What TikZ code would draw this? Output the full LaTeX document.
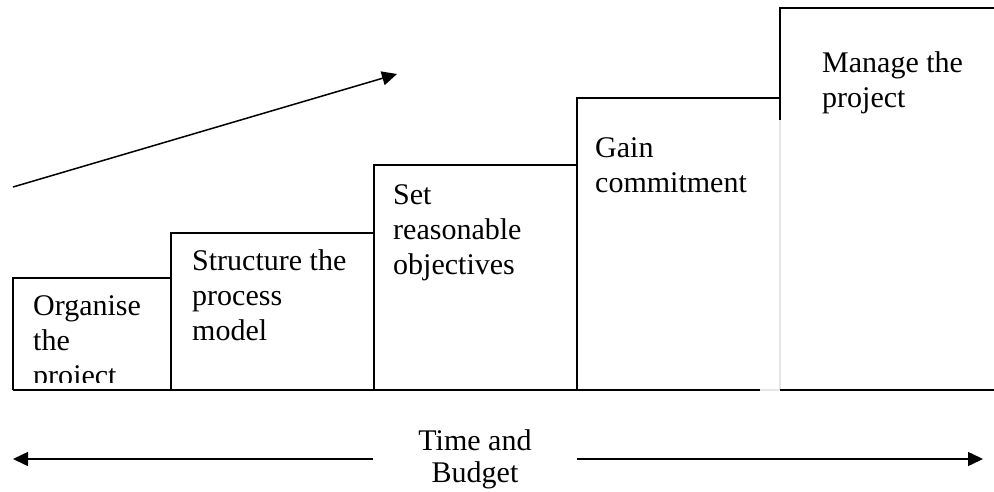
\documentclass[tikz,border=0pt]{standalone}
\usepackage{fontspec}
\setmainfont{Liberation Serif}
\usetikzlibrary{arrows.meta}
\begin{document}
\begin{tikzpicture}[x=1pt,y=-1pt,
  edge/.style={line width=1.8pt},
  faint/.style={line width=1.2pt,draw=black!10},
  lbl/.style={anchor=base west,inner sep=0pt,font=\fontsize{30}{35}\selectfont},
  arr/.style={line width=1.5pt,-{Triangle[length=15pt,width=14pt]}}]
\useasboundingbox (0,0) rectangle (994,491);
% steps
\draw[edge] (13,390) -- (13,278) -- (171,278);
\draw[edge] (171,390) -- (171,233) -- (374,233);
\draw[edge] (374,390) -- (374,165) -- (577,165);
\draw[edge] (577,390) -- (577,98) -- (780,98);
\draw[edge] (780,120) -- (780,8) -- (994,8);
\draw[faint] (780,120) -- (780,389);
\draw[faint] (760,390) -- (780,390);
\draw[edge] (13,390) -- (760,390);
\draw[edge] (780,390) -- (994,390);
% texts
\begin{scope}
\clip (13,278) rectangle (171,382);
\node[lbl] (t1) at (33,315) {\begin{tabular}[t]{@{}l@{}}Organise\\the\\project\end{tabular}};
\end{scope}
\node[lbl] (t2) at (192,270) {\begin{tabular}[t]{@{}l@{}}Structure the\\process\\model\end{tabular}};
\node[lbl] (t3) at (393,204) {\begin{tabular}[t]{@{}l@{}}Set\\reasonable\\objectives\end{tabular}};
\node[lbl] (t4) at (595,157) {\begin{tabular}[t]{@{}l@{}}Gain\\commitment\end{tabular}};
\node[lbl] (t5) at (822,72) {\begin{tabular}[t]{@{}l@{}}Manage the\\project\end{tabular}};
% rising arrow
\coordinate (r0) at (13,187);
\coordinate (r1) at (397,74);
\draw[arr] (r0) -- (r1);
% time and budget
\node[anchor=base,inner sep=0pt,font=\fontsize{30}{32}\selectfont] (tb) at (475,450)
  {\begin{tabular}[t]{@{}c@{}}Time and\\Budget\end{tabular}};
\coordinate (la) at (373,459);
\coordinate (lb) at (13,459);
\coordinate (ra) at (577,459);
\coordinate (rb) at (983,459);
\draw[arr] (la) -- (lb);
\draw[arr] (ra) -- (rb);
\end{tikzpicture}
\end{document}
